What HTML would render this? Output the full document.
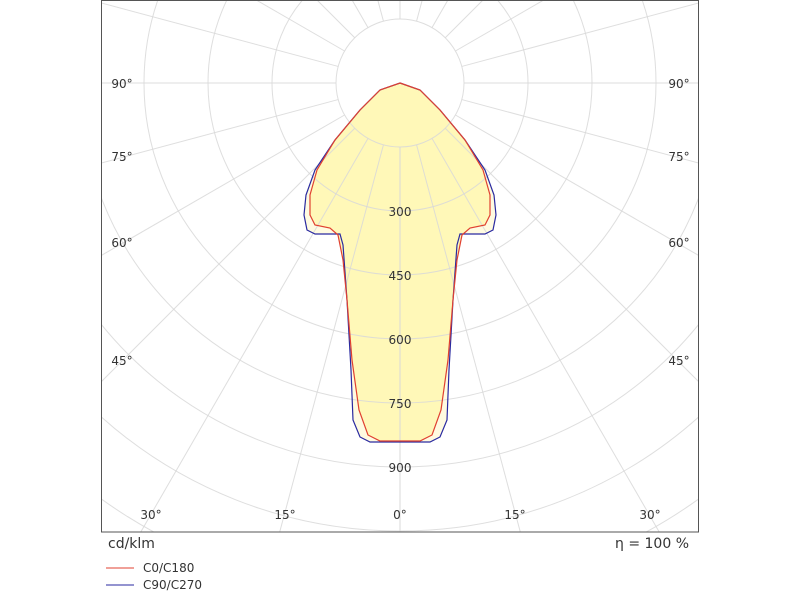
<!DOCTYPE html>
<html><head><meta charset="utf-8"><style>
html,body{margin:0;padding:0;background:#fff;width:800px;height:600px;overflow:hidden;position:relative;}
svg{position:absolute;left:0;top:0;display:block;overflow:hidden;font-family:"DejaVu Sans","Liberation Sans",sans-serif;}
</style></head><body>
<svg width="800" height="600" viewBox="0 0 800 600">
<defs><clipPath id="c"><rect x="101" y="1" width="598" height="531"/></clipPath></defs>
<g clip-path="url(#c)">
<path d="M400,83 L420,90 L440,110 L465,140 L485,170 L494,195 L496,215 L493,230 L485,234 L460,234 L457,245 L453,300 L449,370 L447,420 L440,437 L430,442 L370,442 L360,437 L353,420 L351,370 L347,300 L343,245 L340,234 L315,234 L307,230 L304,215 L306,195 L315,170 L335,140 L360,110 L380,90 Z" fill="#fffbe0"/>
<path d="M400,83 L420,90 L440,110 L465,140 L483,170 L490,195 L490,215 L485,225 L470,228 L462,235 L457,260 L453,300 L448,360 L441,410 L432,435 L420,441 L380,441 L368,435 L359,410 L352,360 L347,300 L343,260 L338,235 L330,228 L315,225 L310,215 L310,195 L317,170 L335,140 L360,110 L380,90 Z" fill="#fff8b8"/>
<g fill="none" stroke="#d8d8d8" stroke-opacity="0.85" stroke-width="1">
<circle cx="400" cy="83" r="64"/><circle cx="400" cy="83" r="128"/><circle cx="400" cy="83" r="192"/><circle cx="400" cy="83" r="256"/><circle cx="400" cy="83" r="320"/><circle cx="400" cy="83" r="384"/><circle cx="400" cy="83" r="448"/><circle cx="400" cy="83" r="512"/><circle cx="400" cy="83" r="576"/>
<g id="rl">
<line x1="400" y1="147" x2="400" y2="700"/>
<line x1="400" y1="147" x2="400" y2="700" transform="rotate(15 400 83)"/>
<line x1="400" y1="147" x2="400" y2="700" transform="rotate(30 400 83)"/>
<line x1="400" y1="147" x2="400" y2="700" transform="rotate(45 400 83)"/>
<line x1="400" y1="147" x2="400" y2="700" transform="rotate(60 400 83)"/>
<line x1="400" y1="147" x2="400" y2="700" transform="rotate(75 400 83)"/>
<line x1="400" y1="147" x2="400" y2="700" transform="rotate(90 400 83)"/>
<line x1="400" y1="147" x2="400" y2="700" transform="rotate(105 400 83)"/>
<line x1="400" y1="147" x2="400" y2="700" transform="rotate(120 400 83)"/>
<line x1="400" y1="147" x2="400" y2="700" transform="rotate(135 400 83)"/>
<line x1="400" y1="147" x2="400" y2="700" transform="rotate(150 400 83)"/>
<line x1="400" y1="147" x2="400" y2="700" transform="rotate(165 400 83)"/>
</g>
<use href="#rl" transform="matrix(-1 0 0 1 800 0)"/>
<line x1="400" y1="19" x2="400" y2="0"/>
</g>
<path d="M400,83 L420,90 L440,110 L465,140 L485,170 L494,195 L496,215 L493,230 L485,234 L460,234 L457,245 L453,300 L449,370 L447,420 L440,437 L430,442 L370,442 L360,437 L353,420 L351,370 L347,300 L343,245 L340,234 L315,234 L307,230 L304,215 L306,195 L315,170 L335,140 L360,110 L380,90 Z" fill="none" stroke="#2a2aa0" stroke-width="1.2"/>
<path d="M400,83 L420,90 L440,110 L465,140 L483,170 L490,195 L490,215 L485,225 L470,228 L462,235 L457,260 L453,300 L448,360 L441,410 L432,435 L420,441 L380,441 L368,435 L359,410 L352,360 L347,300 L343,260 L338,235 L330,228 L315,225 L310,215 L310,195 L317,170 L335,140 L360,110 L380,90 Z" fill="none" stroke="#e04030" stroke-width="1.2"/>
</g>
<rect x="101.5" y="0.5" width="597" height="531.5" fill="none" stroke="#555" stroke-width="1"/>
<g font-size="12" fill="#333" text-anchor="middle">
<text x="400" y="216">300</text><text x="400" y="280">450</text><text x="400" y="344">600</text><text x="400" y="408">750</text><text x="400" y="472">900</text>
<text x="122" y="88">90°</text><text x="122" y="161">75°</text><text x="122" y="247">60°</text><text x="122" y="365">45°</text>
<text x="679" y="88">90°</text><text x="679" y="161">75°</text><text x="679" y="247">60°</text><text x="679" y="365">45°</text>
<text x="151" y="519">30°</text><text x="285" y="519">15°</text><text x="400" y="519">0°</text><text x="515" y="519">15°</text><text x="650" y="519">30°</text>
</g>
<text x="108" y="548" font-size="14" fill="#333">cd/klm</text>
<text x="689" y="548" font-size="14" fill="#333" text-anchor="end">η = 100 %</text>
<line x1="106" y1="568" x2="134" y2="568" stroke="#e04030"/>
<line x1="106" y1="585" x2="134" y2="585" stroke="#2a2aa0"/>
<text x="143" y="572" font-size="12" fill="#333">C0/C180</text>
<text x="143" y="589" font-size="12" fill="#333">C90/C270</text>
</svg>
</body></html>
